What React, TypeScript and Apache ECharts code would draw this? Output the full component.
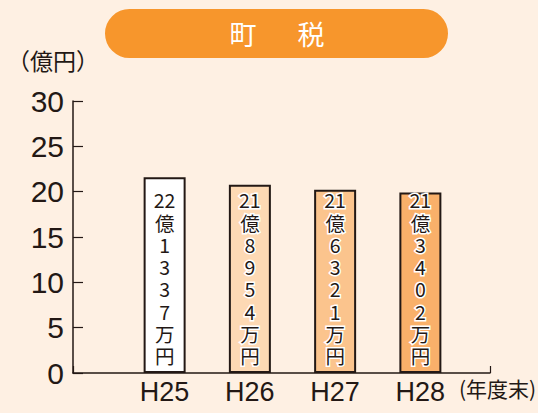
import React, { useEffect, useRef } from "react";
import * as echarts from "echarts";

const categories = ["H25", "H26", "H27", "H28"];
const values = [21.6, 20.75, 20.2, 19.9];
const valueLabels = ["22億1337万円", "21億8954万円", "21億6321万円", "21億3402万円"];
const barColors = ["#FFFFFF", "#FDD9B4", "#FBC48D", "#F9B06A"];
const yTicks = [0, 5, 10, 15, 20, 25, 30];

const INK = "#231815";
const NUM_FONT = "'Liberation Sans', sans-serif";
const CJK_FONT = "'Noto Sans CJK JP', sans-serif";

function verticalize(s: string): string {
  const out: string[] = [];
  let i = 0;
  const m = s.match(/^[0-9]+/);
  if (m) {
    out.push(m[0]);
    i = m[0].length;
  }
  for (; i < s.length; i++) out.push(s[i]);
  return out.join("\n");
}

export default function App() {
  const ref = useRef<HTMLDivElement>(null);
  useEffect(() => {
    if (!ref.current) return;
    const chart = echarts.init(ref.current, null, { renderer: "svg" });
    const yMin = yTicks[0];
    const yMax = yTicks[yTicks.length - 1];
    const yInterval = yTicks[1] - yTicks[0];
    chart.setOption({
      animation: false,
      backgroundColor: "#FEF0E3",
      grid: [
        { left: 73, right: 48, top: 101, bottom: 40 },
        { left: 122, right: 75, top: 101, bottom: 40 },
      ],
      xAxis: [
        {
          type: "value",
          gridIndex: 0,
          min: 0,
          max: 1,
          interval: 1,
          axisLine: { show: true, lineStyle: { color: INK, width: 1.5 } },
          axisTick: { show: true, inside: true, length: 7, lineStyle: { color: INK, width: 1.2 } },
          axisLabel: { show: false },
          splitLine: { show: false },
        },
        {
          type: "category",
          gridIndex: 1,
          data: categories,
          axisLine: { show: false },
          axisTick: { show: false },
          axisLabel: {
            color: INK,
            fontFamily: NUM_FONT,
            fontSize: 27,
            margin: 5,
          },
        },
      ],
      yAxis: [
        {
          type: "value",
          gridIndex: 0,
          min: yMin,
          max: yMax,
          interval: yInterval,
          name: "（億円）",
          nameLocation: "end",
          nameGap: 30,
          nameTextStyle: {
            color: INK,
            fontFamily: CJK_FONT,
            fontSize: 23,
            align: "center",
            padding: [0, 40, 0, 0],
          },
          axisLine: { show: true, lineStyle: { color: INK, width: 1.5 } },
          axisTick: { show: true, inside: true, length: 10, lineStyle: { color: INK, width: 1.2 } },
          axisLabel: {
            color: INK,
            fontFamily: NUM_FONT,
            fontSize: 30,
            margin: 9,
          },
          splitLine: { show: false },
        },
        {
          type: "value",
          gridIndex: 1,
          min: yMin,
          max: yMax,
          interval: yInterval,
          show: false,
        },
      ],
      series: [
        {
          type: "bar",
          xAxisIndex: 1,
          yAxisIndex: 1,
          barWidth: 42,
          data: values.map((v, i) => ({
            value: v,
            itemStyle: { color: barColors[i], borderColor: INK, borderWidth: 2 },
          })),
          label: {
            show: true,
            position: "insideBottom",
            distance: 6,
            formatter: (p: any) => verticalize(valueLabels[p.dataIndex]),
            color: INK,
            fontFamily: CJK_FONT,
            fontSize: 19.5,
            lineHeight: 22.3,
            align: "center",
            textBorderColor: "#FFFFFF",
            textBorderWidth: 3,
          },
        },
      ],
      graphic: [
        {
          type: "rect",
          shape: { x: 105, y: 9, width: 343, height: 49, r: 24.5 },
          style: { fill: "#F7962C" },
        },
        {
          type: "text",
          x: 243,
          y: 33,
          style: {
            text: "町",
            fill: "#FFFFFF",
            font: "27px 'Noto Sans CJK JP', sans-serif",
            align: "center",
            verticalAlign: "middle",
          },
        },
        {
          type: "text",
          x: 311,
          y: 33,
          style: {
            text: "税",
            fill: "#FFFFFF",
            font: "27px 'Noto Sans CJK JP', sans-serif",
            align: "center",
            verticalAlign: "middle",
          },
        },
        {
          type: "text",
          x: 459,
          y: 388,
          style: {
            text: "(年度末)",
            fill: INK,
            font: "21px 'Noto Sans CJK JP', sans-serif",
            align: "left",
            verticalAlign: "middle",
          },
        },
      ],
    });
    return () => chart.dispose();
  }, []);
  return (
    <div
      ref={ref}
      style={{ position: "fixed", left: 0, top: 0, width: 538, height: 413 }}
    />
  );
}
